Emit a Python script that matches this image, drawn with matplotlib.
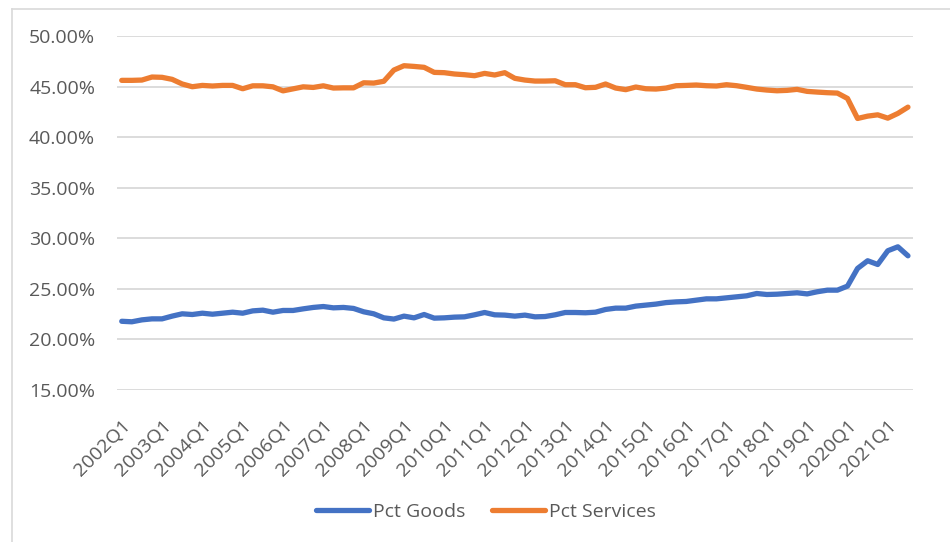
import matplotlib
matplotlib.use("Agg")
import matplotlib.pyplot as plt
from matplotlib.lines import Line2D
from matplotlib.ticker import StrMethodFormatter

# quarterly shares, 2002Q1 .. 2021Q3
quarters = [f"{y}Q{q}" for y in range(2002, 2022) for q in range(1, 5)][:79]

pct_goods = [
    21.80, 21.75, 21.94, 22.04, 22.04, 22.31, 22.54, 22.47, 22.60, 22.50,
    22.60, 22.70, 22.60, 22.83, 22.90, 22.70, 22.87, 22.87, 23.03, 23.17,
    23.26, 23.13, 23.17, 23.07, 22.74, 22.54, 22.14, 22.02, 22.31, 22.14,
    22.47, 22.11, 22.14, 22.21, 22.24, 22.44, 22.67, 22.44, 22.41, 22.31,
    22.41, 22.24, 22.27, 22.44, 22.67, 22.67, 22.64, 22.70, 22.97, 23.10,
    23.10, 23.30, 23.40, 23.50, 23.65, 23.72, 23.76, 23.89, 24.02, 24.02,
    24.12, 24.22, 24.32, 24.55, 24.45, 24.48, 24.55, 24.62, 24.51, 24.72,
    24.88, 24.88, 25.28, 27.03, 27.79, 27.42, 28.78, 29.17, 28.28,
]

pct_services = [
    45.64, 45.64, 45.67, 45.97, 45.94, 45.74, 45.28, 45.01, 45.14, 45.08,
    45.14, 45.14, 44.81, 45.10, 45.10, 45.00, 44.60, 44.80, 45.00, 44.94,
    45.10, 44.88, 44.90, 44.90, 45.40, 45.37, 45.55, 46.66, 47.09, 47.02,
    46.93, 46.43, 46.40, 46.27, 46.20, 46.10, 46.33, 46.17, 46.40, 45.84,
    45.67, 45.57, 45.57, 45.60, 45.21, 45.21, 44.91, 44.95, 45.28, 44.88,
    44.72, 44.98, 44.81, 44.78, 44.88, 45.11, 45.14, 45.18, 45.11, 45.08,
    45.21, 45.11, 44.95, 44.78, 44.68, 44.61, 44.65, 44.75, 44.55, 44.48,
    44.42, 44.38, 43.85, 41.87, 42.10, 42.23, 41.90, 42.37, 42.99,
]

blue = "#4472C4"
orange = "#ED7D31"
grid_col = "#d9d9d9"
text_col = "#595959"

plt.rcParams["font.family"] = ["Open Sans", "DejaVu Sans"]

fig = plt.figure(figsize=(9.5, 5.42), dpi=100)
ax = fig.add_axes([116.7 / 950, 1 - 390 / 542, (913 - 116.7) / 950, (390 - 36.3) / 542])

x = list(range(len(quarters)))
ax.plot(x, pct_goods, color=blue, lw=3.8, solid_capstyle="round", label="Pct Goods")
ax.plot(x, pct_services, color=orange, lw=3.8, solid_capstyle="round", label="Pct Services")

ax.set_xlim(-0.5, len(quarters) - 0.5)
ax.set_ylim(15, 50)
ax.set_yticks(range(15, 51, 5))
ax.yaxis.set_major_formatter(StrMethodFormatter("{x:.2f}%"))
ax.grid(axis="y", color=grid_col, lw=1.3)
ax.set_axisbelow(True)
for s in ax.spines.values():
    s.set_visible(False)

ax.set_xticks(x[::4])
ax.set_xticklabels(quarters[::4], rotation=45, ha="right", rotation_mode="anchor")
ax.tick_params(axis="x", length=0, pad=19, labelsize=14, labelcolor=text_col)
ax.tick_params(axis="y", length=0, pad=15.5, labelsize=14, labelcolor=text_col)

fig.legend(loc="center", bbox_to_anchor=(486 / 950, 1 - 512 / 542), ncol=2, frameon=False,
           fontsize=14, labelcolor=text_col, handlelength=2.7, handletextpad=0.2,
           columnspacing=1.4)

# chart area border (top and left visible)
fig.add_artist(Line2D([12 / 950, 1], [1 - 9 / 542] * 2, transform=fig.transFigure, color=grid_col, lw=1.2))
fig.add_artist(Line2D([12 / 950] * 2, [0, 1 - 9 / 542], transform=fig.transFigure, color=grid_col, lw=1.2))

fig.savefig("out.png", dpi=100)
